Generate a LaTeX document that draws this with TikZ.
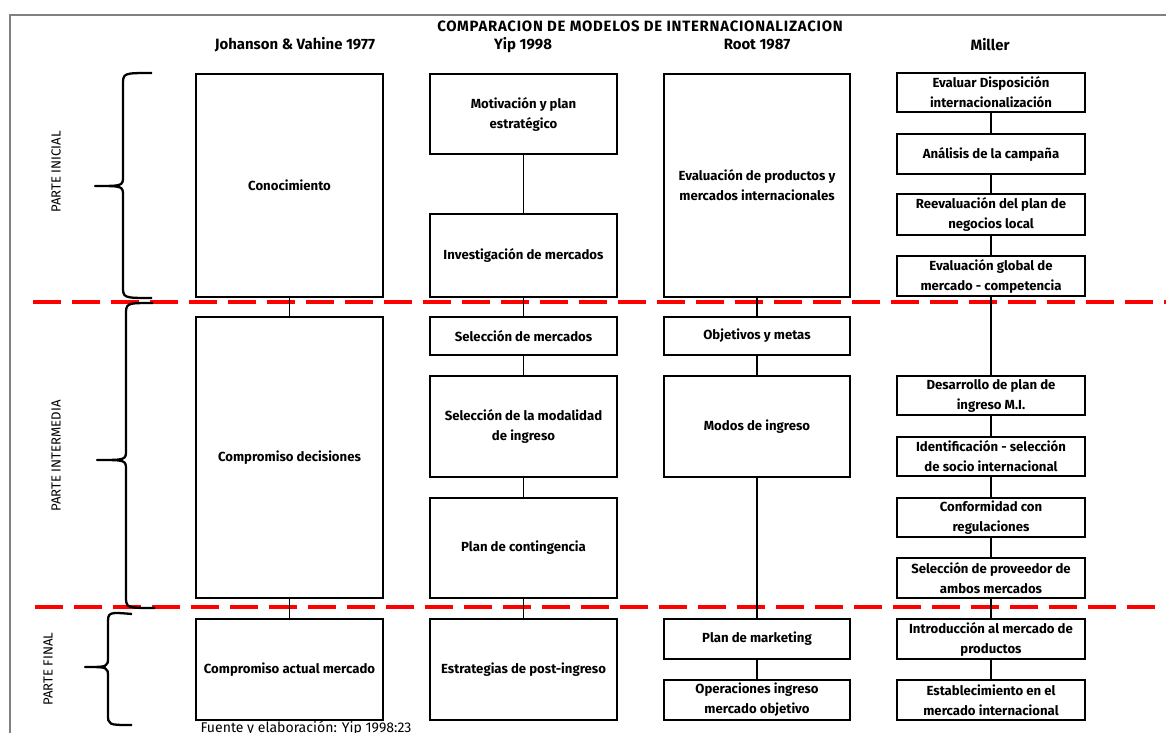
\documentclass[tikz,border=0pt]{standalone}
\usepackage{fontspec}
\setmainfont{Fira Sans}
\tikzset{
  caja/.style={draw, line width=1.3pt, inner sep=1pt, outer sep=0pt, align=center,
    font=\fontsize{7.5}{11.4}\selectfont\bfseries},
  col1/.style={caja, minimum width=3.74cm},
  col2/.style={caja, minimum width=3.74cm},
  col3/.style={caja, minimum width=3.72cm},
  col4/.style={caja, minimum width=3.76cm},
  conector/.style={line width=1.1pt},
  corte/.style={red, line width=2.2pt, dash pattern=on 0.56cm off 0.22cm},
  llave/.style={line width=1.3pt, line join=round},
  parte/.style={rotate=90, font=\fontsize{7.5}{9}\selectfont},
  titulo/.style={font=\fontsize{8.5}{10}\selectfont\bfseries}
}
\begin{document}
\begin{tikzpicture}[x=0.02cm, y=-0.02cm]
	\useasboundingbox (0,0) rectangle (1166,733);
	\draw[gray, line width=0.8pt] (1166,15) -- (10,15) -- (10,733);
	% titulos
	\node[font=\fontsize{8.5}{10}\selectfont\bfseries\addfontfeatures{LetterSpace=5}] (tit) at (640,26) {COMPARACION DE MODELOS DE INTERNACIONALIZACION};
	\node[titulo] (h1) at (295,45) {Johanson \& Vahine 1977};
	\node[titulo] (h2) at (523,45) {Yip 1998};
	\node[titulo] (h3) at (757,45) {Root 1987};
	\node[titulo] (h4) at (990,45) {Miller};
	% cortes entre partes
	\draw[corte] (33,302) -- (1166,302);
	\draw[corte] (35,607) -- (1166,607);
	% llaves
	\draw[llave] (152,73) .. controls (123,73) .. (123,85) -- (123,176)
		.. controls (123,186) .. (95,186) .. controls (123,186) .. (123,196)
		-- (123,286) .. controls (123,298) .. (152,298);
	\draw[llave] (153,303) .. controls (126,303) .. (126,315) -- (126,450)
		.. controls (126,460) .. (97,460) .. controls (126,460) .. (126,470)
		-- (126,596) .. controls (126,608) .. (155,608);
	\draw[llave] (132,614) .. controls (108,612) .. (108,624) -- (108,657)
		.. controls (108,667) .. (85,667) .. controls (108,667) .. (108,677)
		-- (108,714) .. controls (108,725) .. (132,725);
	\node[parte] (inicial) at (56,172) {PARTE INICIAL};
	\node[parte] (intermedia) at (56,456) {PARTE INTERMEDIA};
	\node[parte] (final) at (48,669) {PARTE FINAL};
	% Johanson & Vahine
	\node[col1, minimum height=4.46cm] (conoc) at (289.5,185.5) {Conocimiento};
	\node[col1, minimum height=5.62cm] (compdec) at (289.5,457.5) {Compromiso decisiones};
	\node[col1, minimum height=2.02cm] (compact) at (289.5,669.5) {Compromiso actual mercado};
	% Yip
	\node[col2, minimum height=1.6cm] (motiv) at (523.5,114) {Motivación y plan\\estratégico};
	\node[col2, minimum height=1.66cm] (invest) at (523.5,255.5) {Investigación de mercados};
	\node[col2, minimum height=0.76cm] (selmerc) at (523.5,336) {Selección de mercados};
	\node[col2, minimum height=2.02cm] (selmod) at (523.5,426.5) {Selección de la modalidad\\de ingreso};
	\node[col2, minimum height=2cm] (conting) at (523.5,548) {Plan de contingencia};
	\node[col2, minimum height=2.02cm] (postin) at (523.5,669.5) {Estrategias de post-ingreso};
	% Root
	\node[col3, minimum height=4.46cm] (evalprod) at (757,185.5) {Evaluación de productos y\\mercados internacionales};
	\node[col3, minimum height=0.76cm] (objet) at (757,336) {Objetivos y metas};
	\node[col3, minimum height=2.02cm] (modos) at (757,426.5) {Modos de ingreso};
	\node[col3, minimum height=0.8cm] (mkt) at (757,639) {Plan de marketing};
	\node[col3, minimum height=0.8cm] (operac) at (757,700) {Operaciones ingreso\\mercado objetivo};
	% Miller
	\node[col4, minimum height=0.78cm] (evaldisp) at (991,92.5) {Evaluar Disposición\\internacionalización};
	\node[col4, minimum height=0.8cm] (analisis) at (991,154) {Análisis de la campaña};
	\node[col4, minimum height=0.82cm] (reeval) at (991,214.5) {Reevaluación del plan de\\negocios local};
	\node[col4, minimum height=0.8cm] (evalglob) at (991,276) {Evaluación global de\\mercado - competencia};
	\node[col4, minimum height=0.78cm] (desarr) at (991,395.5) {Desarrollo de plan de\\ingreso M.I.};
	\node[col4, minimum height=0.78cm] (ident) at (991,456.5) {Identificación - selección\\de socio internacional};
	\node[col4, minimum height=0.78cm] (conform) at (991,517.5) {Conformidad con\\regulaciones};
	\node[col4, minimum height=0.8cm] (selprov) at (991,578) {Selección de proveedor de\\ambos mercados};
	\node[col4, minimum height=0.8cm] (introd) at (991,639) {Introducción al mercado de\\productos};
	\node[col4, minimum height=0.8cm] (estab) at (991,700) {Establecimiento en el\\mercado internacional};
	% uniones
	\draw[conector] (conoc) -- (compdec);
	\draw[conector] (compdec) -- (compact);
	\draw[conector] (motiv) -- (invest);
	\draw[conector] (invest) -- (selmerc);
	\draw[conector] (selmerc) -- (selmod);
	\draw[conector] (selmod) -- (conting);
	\draw[conector] (conting) -- (postin);
	\draw[conector] (evalprod) -- (objet);
	\draw[conector] (objet) -- (modos);
	\draw[conector] (modos) -- (mkt);
	\draw[conector] (mkt) -- (operac);
	\draw[conector] (evaldisp) -- (analisis);
	\draw[conector] (analisis) -- (reeval);
	\draw[conector] (reeval) -- (evalglob);
	\draw[conector] (evalglob) -- (desarr);
	\draw[conector] (desarr) -- (ident);
	\draw[conector] (ident) -- (conform);
	\draw[conector] (conform) -- (selprov);
	\draw[conector] (selprov) -- (introd);
	\draw[conector] (introd) -- (estab);
	\node[font=\fontsize{8}{9}\selectfont] (fuente) at (306,728) {Fuente y elaboración: Yip 1998:23};
\end{tikzpicture}
\end{document}
